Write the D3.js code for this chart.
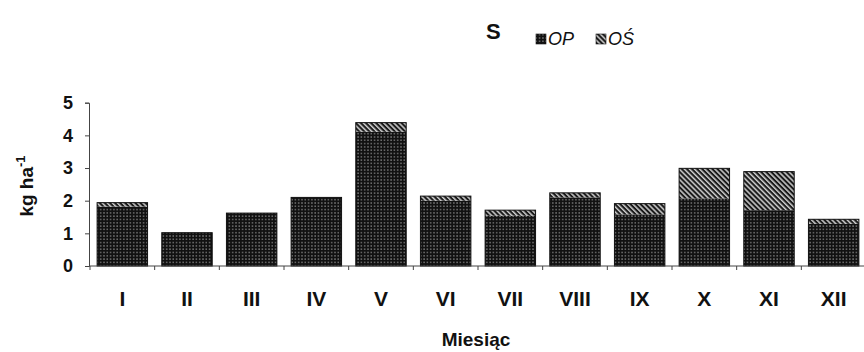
<!DOCTYPE html>
<html>
<head>
<meta charset="utf-8">
<script src="https://cdn.jsdelivr.net/npm/d3@7"></script>
<style>
  html, body { margin: 0; padding: 0; background: #fff; }
  svg { display: block; font-family: "Liberation Sans", Arial, sans-serif; }
</style>
</head>
<body>
<svg id="chart" width="864" height="352"></svg>
<script>
// Monthly S deposition, kg ha-1, split into OP and OŚ
const months = ["I", "II", "III", "IV", "V", "VI", "VII", "VIII", "IX", "X", "XI", "XII"];
const opValues = [1.82, 1.02, 1.62, 2.10, 4.11, 2.00, 1.54, 2.10, 1.58, 2.07, 1.71, 1.29];
const osValues = [0.12, 0.00, 0.00, 0.00, 0.28, 0.14, 0.17, 0.14, 0.33, 0.92, 1.18, 0.14];
const yTicks = [0, 1, 2, 3, 4, 5];
const seriesNames = ["OP", "OŚ"];

const svg = d3.select("#chart");

// Fill patterns: dotted black for OP, diagonal stripes for OŚ
const defs = svg.append("defs");
const dots = defs.append("pattern")
  .attr("id", "pat-op").attr("patternUnits", "userSpaceOnUse")
  .attr("width", 3.3).attr("height", 3.3);
dots.append("rect").attr("width", 3.3).attr("height", 3.3).attr("fill", "#111");
dots.append("rect").attr("x", 1.1).attr("y", 1.1).attr("width", 1.2).attr("height", 1.2).attr("fill", "#a8a8a8");

const stripes = defs.append("pattern")
  .attr("id", "pat-os").attr("patternUnits", "userSpaceOnUse")
  .attr("width", 3.6).attr("height", 3.6)
  .attr("patternTransform", "rotate(-45)");
stripes.append("rect").attr("width", 3.6).attr("height", 3.6).attr("fill", "#1a1a1a");
stripes.append("rect").attr("width", 1.5).attr("height", 3.6).attr("fill", "#cfcfcf");

const fills = { "OP": "url(#pat-op)", "OŚ": "url(#pat-os)" };

const x = d3.scaleBand().domain(months).range([90, 866])
  .paddingInner(0.22).paddingOuter(0.11);
const y = d3.scaleLinear().domain([0, 5]).range([266, 102.7]);

const rows = months.map((m, i) => ({ month: m, "OP": opValues[i], "OŚ": osValues[i] }));
const stacked = d3.stack().keys(seriesNames)(rows);

// Bars
svg.append("g").selectAll("g")
  .data(stacked).join("g")
  .attr("fill", d => fills[d.key])
  .selectAll("rect")
  .data(d => d.filter(p => p[1] - p[0] > 0))
  .join("rect")
  .attr("x", d => x(d.data.month))
  .attr("width", x.bandwidth())
  .attr("y", d => y(d[1]))
  .attr("height", d => y(d[0]) - y(d[1]));

// Bar outlines around the full stack
svg.append("g").selectAll("rect")
  .data(rows).join("rect")
  .attr("x", d => x(d.month))
  .attr("width", x.bandwidth())
  .attr("y", d => y(d["OP"] + d["OŚ"]))
  .attr("height", d => y(0) - y(d["OP"] + d["OŚ"]))
  .attr("fill", "none").attr("stroke", "#111").attr("stroke-width", 1);

// Y axis
const yAxis = svg.append("g")
  .attr("transform", "translate(89,0)")
  .call(d3.axisLeft(y).tickValues(yTicks).tickFormat(d3.format("d")).tickSize(4).tickPadding(12));
yAxis.select(".domain").attr("stroke", "#444");
yAxis.selectAll(".tick line").attr("stroke", "#444");
yAxis.selectAll("text").attr("font-size", 18).attr("font-weight", "bold")
  .attr("fill", "#111").attr("font-family", "'Liberation Sans', Arial, sans-serif");

// X axis: baseline with ticks at category boundaries
const x0 = x.range()[0], step = x.step();
const xAxis = svg.append("g");
xAxis.append("line").attr("x1", 89).attr("x2", 866).attr("y1", y(0)).attr("y2", y(0))
  .attr("stroke", "#444");
xAxis.selectAll("line.b").data(d3.range(months.length + 1)).join("line")
  .attr("class", "b")
  .attr("x1", i => x0 + i * step).attr("x2", i => x0 + i * step)
  .attr("y1", y(0)).attr("y2", y(0) + 4).attr("stroke", "#444");
xAxis.selectAll("text").data(months).join("text")
  .attr("x", d => x(d) + x.bandwidth() / 2)
  .attr("y", 306)
  .attr("text-anchor", "middle")
  .attr("font-size", 21).attr("font-weight", "bold").attr("fill", "#111")
  .text(d => d);

// Axis titles
svg.append("text").attr("x", 476).attr("y", 346).attr("text-anchor", "middle")
  .attr("font-size", 19).attr("font-weight", "bold").attr("fill", "#111").text("Miesiąc");

const yTitle = svg.append("text")
  .attr("transform", "translate(33,186) rotate(-90)")
  .attr("text-anchor", "middle").attr("font-size", 19).attr("font-weight", "bold").attr("fill", "#111");
yTitle.append("tspan").text("kg ha");
yTitle.append("tspan").attr("dy", -8).attr("font-size", 13).text("-1");

// Title and legend
svg.append("text").attr("x", 486).attr("y", 39).attr("font-size", 22).attr("font-weight", "bold")
  .attr("fill", "#111").text("S");

const legend = svg.append("g");
const legendX = [536, 596];
seriesNames.forEach((name, i) => {
  legend.append("rect").attr("x", legendX[i]).attr("y", 34).attr("width", 10).attr("height", 10)
    .attr("fill", fills[name]).attr("stroke", "#111").attr("stroke-width", 0.6);
  legend.append("text").attr("x", legendX[i] + 12).attr("y", 45)
    .attr("font-size", 18).attr("font-style", "italic").attr("fill", "#111").text(name);
});
</script>
</body>
</html>
